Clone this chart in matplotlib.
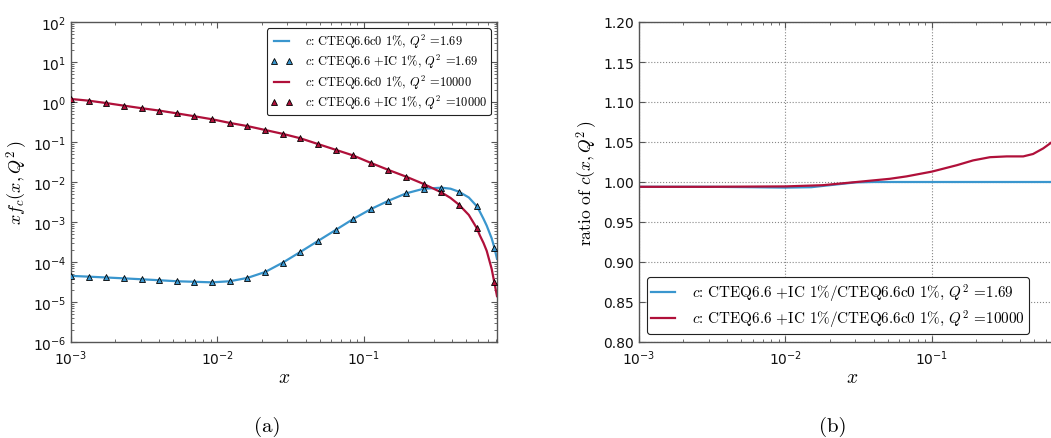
import numpy as np
import matplotlib
matplotlib.use("Agg")
import matplotlib.pyplot as plt
from matplotlib.ticker import LogLocator, MultipleLocator, FormatStrFormatter, NullFormatter

# ---------------- data ----------------
x_markers = [0.001, 0.001319, 0.001741, 0.002297, 0.003031, 0.004, 0.005279, 0.006966,
             0.009192, 0.01213, 0.016, 0.02112, 0.02786, 0.03677, 0.04852, 0.06403,
             0.08449, 0.1115, 0.1471, 0.1941, 0.2561, 0.338, 0.446, 0.5885, 0.7765]

ic_q169 = [4.4e-5, 4.3e-5, 4.1e-5, 3.9e-5, 3.7e-5, 3.5e-5, 3.3e-5, 3.2e-5,
           3.1e-5, 3.3e-5, 4.0e-5, 5.6e-5, 9.6e-5, 1.78e-4, 3.35e-4, 6.3e-4,
           1.19e-3, 2.1e-3, 3.4e-3, 5.2e-3, 6.8e-3, 7.2e-3, 5.7e-3, 2.5e-3, 2.3e-4]

ic_q10000 = [1.19, 1.08, 0.94, 0.81, 0.70, 0.61, 0.52, 0.44,
             0.37, 0.30, 0.25, 0.20, 0.16, 0.124, 0.089, 0.064,
             0.046, 0.030, 0.020, 0.0136, 0.0089, 0.0055, 0.0027, 7.1e-4, 3.1e-5]

x_line = [0.001, 0.001319, 0.001741, 0.002297, 0.003031, 0.004, 0.005279, 0.006966,
          0.009192, 0.01213, 0.016, 0.02112, 0.02786, 0.03677, 0.04852, 0.06403,
          0.08449, 0.1115, 0.1471, 0.1941, 0.2561, 0.338, 0.39, 0.446, 0.52, 0.5885,
          0.619, 0.655, 0.689, 0.745, 0.7765, 0.81]

c0_q169 = [4.5e-5, 4.3e-5, 4.1e-5, 3.9e-5, 3.7e-5, 3.5e-5, 3.3e-5, 3.2e-5,
           3.1e-5, 3.3e-5, 4.0e-5, 5.6e-5, 9.6e-5, 1.78e-4, 3.35e-4, 6.3e-4,
           1.19e-3, 2.1e-3, 3.4e-3, 5.2e-3, 6.8e-3, 7.2e-3, 6.8e-3, 5.7e-3, 4.1e-3, 2.5e-3,
           1.8e-3, 1.2e-3, 8.1e-4, 3.9e-4, 2.3e-4, 1.2e-4]

c0_q10000 = [1.19, 1.08, 0.94, 0.81, 0.70, 0.61, 0.52, 0.44,
             0.37, 0.30, 0.25, 0.20, 0.16, 0.124, 0.089, 0.064,
             0.046, 0.030, 0.020, 0.0136, 0.0089, 0.0055, 0.0040, 0.0027, 1.5e-3, 7.1e-4,
             4.6e-4, 3.0e-4, 1.9e-4, 6.7e-5, 3.1e-5, 1.4e-5]

ratio_x_q169 = [0.001, 0.003, 0.006, 0.01, 0.015, 0.02, 0.03, 0.04, 0.06, 0.1, 0.3, 0.81]
ratio_q169 = [0.994, 0.994, 0.9935, 0.993, 0.9935, 0.996, 0.9995, 1.0, 1.0, 1.0, 1.0, 1.0]

ratio_x_q10000 = [0.001, 0.003, 0.01, 0.018, 0.0306, 0.0516, 0.067, 0.1, 0.148, 0.191,
                  0.249, 0.324, 0.42, 0.49, 0.575, 0.65, 0.81]
ratio_q10000 = [0.994, 0.994, 0.9945, 0.996, 1.0, 1.004, 1.007, 1.013, 1.021, 1.027,
                1.031, 1.032, 1.032, 1.035, 1.042, 1.049, 1.065]

labels_left = [r"$c$: CTEQ6.6c0 1%, $Q^2$ =1.69",
               r"$c$: CTEQ6.6 +IC 1%, $Q^2$ =1.69",
               r"$c$: CTEQ6.6c0 1%, $Q^2$ =10000",
               r"$c$: CTEQ6.6 +IC 1%, $Q^2$ =10000"]
labels_right = [r"$c$: CTEQ6.6 +IC 1%/CTEQ6.6c0 1%, $Q^2$ =1.69",
                r"$c$: CTEQ6.6 +IC 1%/CTEQ6.6c0 1%, $Q^2$ =10000"]

# ---------------- style ----------------
BLUE = "#3a96ce"
RED = "#b0103a"
SPINE = "#555555"
plt.rcParams["axes.unicode_minus"] = False
plt.rcParams["font.family"] = ["DejaVu Sans"]

W, H = 1051, 439
fig = plt.figure(figsize=(W / 100, H / 100), dpi=100)

def box(l, t, r, b):
    return [l / W, 1 - b / H, (r - l) / W, (b - t) / H]

ax1 = fig.add_axes(box(71, 23, 497, 343))
ax2 = fig.add_axes(box(639, 23, 1065, 343))

def style(ax):
    for s in ax.spines.values():
        s.set_color(SPINE)
        s.set_linewidth(1.0)
    ax.tick_params(which="both", direction="in", top=True, right=True,
                   colors=SPINE, labelcolor="#111111", labelsize=10)
    ax.tick_params(which="major", length=4, width=0.8)
    ax.tick_params(which="minor", length=2, width=0.6)
    ax.tick_params(axis="x", which="major", pad=4.5)

# ---- left panel ----
ax1.plot(x_line, c0_q169, color=BLUE, lw=1.6, label=labels_left[0], zorder=2)
ax1.plot(x_markers, ic_q169, ls="none", marker="^", ms=5, mfc=BLUE, mec="black",
         mew=0.6, label=labels_left[1], zorder=3)
ax1.plot(x_line, c0_q10000, color=RED, lw=1.6, label=labels_left[2], zorder=2)
ax1.plot(x_markers, ic_q10000, ls="none", marker="^", ms=5, mfc=RED, mec="black",
         mew=0.6, label=labels_left[3], zorder=3)
ax1.set_xscale("log")
ax1.set_yscale("log")
ax1.set_xlim(1e-3, 0.81)
ax1.set_ylim(1e-6, 1e2)
ax1.yaxis.set_major_locator(LogLocator(base=10, numticks=20))
ax1.yaxis.set_minor_locator(LogLocator(base=10, subs=np.arange(2, 10), numticks=20))
ax1.yaxis.set_minor_formatter(NullFormatter())
style(ax1)
ax1.set_xlabel(r"$x$", fontsize=14, math_fontfamily="cm", labelpad=0)
ax1.set_ylabel(r"$xf_c(x,Q^2\,)$", fontsize=13, math_fontfamily="cm", labelpad=2)
leg1 = ax1.legend(loc="upper right", numpoints=2, handlelength=1.8, handletextpad=1.0,
                  borderpad=0.3, labelspacing=0.2, fancybox=True, framealpha=1,
                  prop={"family": "cmr10", "size": 8.9, "math_fontfamily": "cm"})
leg1.get_frame().set_edgecolor("#222222")
leg1.get_frame().set_linewidth(0.8)

# ---- right panel ----
ax2.plot(ratio_x_q169, ratio_q169, color=BLUE, lw=1.6, label=labels_right[0])
ax2.plot(ratio_x_q10000, ratio_q10000, color=RED, lw=1.6, label=labels_right[1])
ax2.set_xscale("log")
ax2.set_xlim(1e-3, 0.81)
ax2.set_ylim(0.80, 1.20)
ax2.yaxis.set_major_locator(MultipleLocator(0.05))
ax2.yaxis.set_major_formatter(FormatStrFormatter("%.2f"))
ax2.grid(True, which="major", ls=":", color="#888888", lw=0.8)
style(ax2)
ax2.set_xlabel(r"$x$", fontsize=14, math_fontfamily="cm", labelpad=0)
ax2.set_ylabel(r"ratio of $c(x,Q^2\,)$", fontsize=12.5, family="cmr10",
               math_fontfamily="cm", labelpad=3)
leg2 = ax2.legend(loc="lower left", handlelength=1.6, handletextpad=1.1,
                  borderpad=0.3, labelspacing=0.25, fancybox=True, framealpha=1,
                  prop={"family": "cmr10", "size": 10.9, "math_fontfamily": "cm"})
leg2.get_frame().set_edgecolor("#222222")
leg2.get_frame().set_linewidth(0.8)

fig.text(267 / W, 1 - 427 / H, "(a)", family="cmr10", fontsize=15, ha="center", va="center")
fig.text(833 / W, 1 - 427 / H, "(b)", family="cmr10", fontsize=15, ha="center", va="center")

fig.savefig("out.png", dpi=100)
